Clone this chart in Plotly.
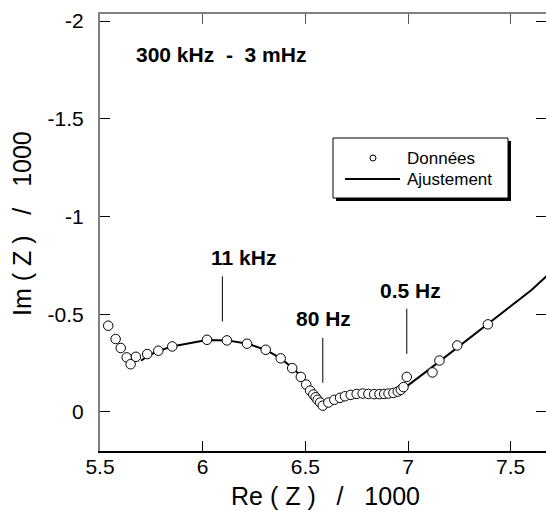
import plotly.graph_objects as go

# Measured data (Re(Z)/1000, Im(Z)/1000)
data_re = [5.540, 5.576, 5.601, 5.630, 5.649, 5.675, 5.730, 5.784, 5.852, 6.021,
           6.118, 6.216, 6.307, 6.380, 6.436, 6.478, 6.504, 6.523, 6.539, 6.550,
           6.560, 6.572, 6.585, 6.612, 6.641, 6.669, 6.693, 6.721, 6.750, 6.779,
           6.807, 6.835, 6.861, 6.884, 6.905, 6.929, 6.950, 6.965, 6.978, 6.994,
           7.119, 7.153, 7.240, 7.389]
data_im = [-0.441, -0.373, -0.327, -0.279, -0.244, -0.282, -0.296, -0.313, -0.335, -0.369,
           -0.366, -0.349, -0.318, -0.274, -0.224, -0.179, -0.140, -0.109, -0.089, -0.075,
           -0.062, -0.048, -0.032, -0.048, -0.062, -0.072, -0.080, -0.087, -0.092, -0.094,
           -0.092, -0.091, -0.091, -0.092, -0.094, -0.097, -0.104, -0.113, -0.127, -0.179,
           -0.202, -0.263, -0.340, -0.448]

# Fitted curve
fit_re = [5.70, 5.73, 5.78, 5.85, 6.02, 6.12, 6.22, 6.31, 6.38, 6.44, 6.48, 6.51, 6.53,
          6.55, 6.57, 6.59, 6.61, 6.64, 6.67, 6.70, 6.75, 6.80, 6.86, 6.90, 6.93, 6.96,
          6.99, 7.10, 7.20, 7.30, 7.40, 7.50, 7.60, 7.68]
fit_im = [-0.262, -0.285, -0.310, -0.335, -0.368, -0.366, -0.349, -0.316, -0.274, -0.224,
          -0.180, -0.140, -0.108, -0.078, -0.052, -0.038, -0.045, -0.062, -0.073, -0.082,
          -0.092, -0.094, -0.092, -0.094, -0.098, -0.108, -0.128, -0.215, -0.297, -0.378,
          -0.460, -0.541, -0.622, -0.700]

x_ticks = [5.5, 6.0, 6.5, 7.0, 7.5]
x_labels = ["5.5", "6", "6.5", "7", "7.5"]
y_ticks = [-2.0, -1.5, -1.0, -0.5, 0.0]
y_labels = ["-2", "-1.5", "-1", "-0.5", "0"]

# Frequency markers: label, label x, label y, line x, line y0, line y1
freq_labels = ["11 kHz", "80 Hz", "0.5 Hz"]
freq_lab_x = [6.197, 6.590, 7.010]
freq_lab_y = [-0.792, -0.477, -0.621]
freq_line_x = [6.096, 6.585, 6.994]
freq_line_y0 = [-0.694, -0.379, -0.528]
freq_line_y1 = [-0.463, -0.149, -0.297]

X_RANGE = [5.5, 7.672]
Y_RANGE = [0.2, -2.036]
FONT = "Liberation Sans, Arial, sans-serif"

fig = go.Figure()
fig.add_trace(go.Scatter(x=fit_re, y=fit_im, mode="lines", name="Ajustement",
                         line=dict(color="black", width=2), showlegend=False))
fig.add_trace(go.Scatter(x=data_re, y=data_im, mode="markers", name="Données",
                         marker=dict(symbol="circle", size=9.5, color="white",
                                     line=dict(color="black", width=1)),
                         showlegend=False))
# helper invisible trace for top/right axes
fig.add_trace(go.Scatter(x=[X_RANGE[0]], y=[Y_RANGE[0]], xaxis="x2", yaxis="y2",
                         mode="markers", marker=dict(opacity=0), showlegend=False,
                         hoverinfo="skip"))

for i in range(len(freq_labels)):
    fig.add_shape(type="line", x0=freq_line_x[i], x1=freq_line_x[i],
                  y0=freq_line_y0[i], y1=freq_line_y1[i],
                  line=dict(color="black", width=1))
    fig.add_annotation(x=freq_lab_x[i], y=freq_lab_y[i], text="<b>%s</b>" % freq_labels[i],
                       showarrow=False, font=dict(family=FONT, size=21, color="black"),
                       xanchor="center", yanchor="middle")

fig.add_annotation(x=6.088, y=-1.831, text="<b>300 kHz\u00a0\u00a0-\u00a0\u00a03 mHz</b>",
                   showarrow=False, font=dict(family=FONT, size=21, color="black"),
                   xanchor="center", yanchor="middle")

# Manual legend (paper coords: plot area x 100..546, y 14..451)
def px(x):
    return (x - 100) / 446.0

def py(y):
    return (451 - y) / 437.0

fig.add_shape(type="rect", xref="paper", yref="paper", x0=px(336), x1=px(511),
              y0=py(201), y1=py(141), fillcolor="black", line=dict(width=0))
fig.add_shape(type="rect", xref="paper", yref="paper", x0=px(333), x1=px(508),
              y0=py(198), y1=py(138), fillcolor="white", line=dict(color="black", width=1))
fig.add_shape(type="line", xref="paper", yref="paper", x0=px(345), x1=px(400),
              y0=py(179), y1=py(179), line=dict(color="black", width=2))
fig.add_shape(type="circle", xref="paper", yref="paper", x0=px(370), x1=px(376),
              y0=py(161), y1=py(155), fillcolor="white", line=dict(color="black", width=1))
fig.add_annotation(xref="paper", yref="paper", x=px(405), y=py(158), text="Données",
                   showarrow=False, xanchor="left", yanchor="middle",
                   font=dict(family=FONT, size=17, color="black"))
fig.add_annotation(xref="paper", yref="paper", x=px(405), y=py(179), text="Ajustement",
                   showarrow=False, xanchor="left", yanchor="middle",
                   font=dict(family=FONT, size=17, color="black"))

# Axis titles
fig.add_annotation(xref="paper", yref="paper", x=px(325), y=py(496),
                   text="Re ( Z )\u00a0\u00a0\u00a0/\u00a0\u00a0\u00a01000", showarrow=False,
                   xanchor="center", yanchor="middle",
                   font=dict(family=FONT, size=25, color="black"))
fig.add_annotation(xref="paper", yref="paper", x=px(22), y=py(224),
                   text="Im ( Z )\u00a0\u00a0\u00a0/\u00a0\u00a0\u00a01000", showarrow=False,
                   xanchor="center", yanchor="middle", textangle=-90,
                   font=dict(family=FONT, size=25, color="black"))

tickfont = dict(family=FONT, size=21, color="black")
fig.update_layout(
    width=546, height=511,
    margin=dict(l=100, r=0, t=14, b=60),
    paper_bgcolor="white", plot_bgcolor="white",
    showlegend=False,
    xaxis=dict(range=X_RANGE, tickvals=x_ticks, ticktext=x_labels, ticks="inside",
               ticklen=10, tickcolor="black", tickwidth=1, showline=True,
               linecolor="black", linewidth=2, showgrid=False, zeroline=False,
               tickfont=tickfont, ticklabelstandoff=-4),
    yaxis=dict(range=Y_RANGE, tickvals=y_ticks, ticktext=y_labels, ticks="inside",
               ticklen=10, tickcolor="black", tickwidth=1, showline=True,
               linecolor="#808080", linewidth=2, showgrid=False, zeroline=False,
               tickfont=tickfont, ticklabelstandoff=10),
    xaxis2=dict(range=X_RANGE, overlaying="x", side="top", tickvals=x_ticks,
                showticklabels=False, ticks="inside", ticklen=10, tickcolor="#555555",
                showline=True, linecolor="#808080", linewidth=2, showgrid=False,
                zeroline=False),
    yaxis2=dict(range=Y_RANGE, overlaying="y", side="right", tickvals=y_ticks,
                showticklabels=False, ticks="inside", ticklen=10, tickcolor="black",
                showline=False, showgrid=False, zeroline=False),
)

fig.write_html("out.html", config={"displayModeBar": False},
               post_script="document.body.style.margin='0';")
